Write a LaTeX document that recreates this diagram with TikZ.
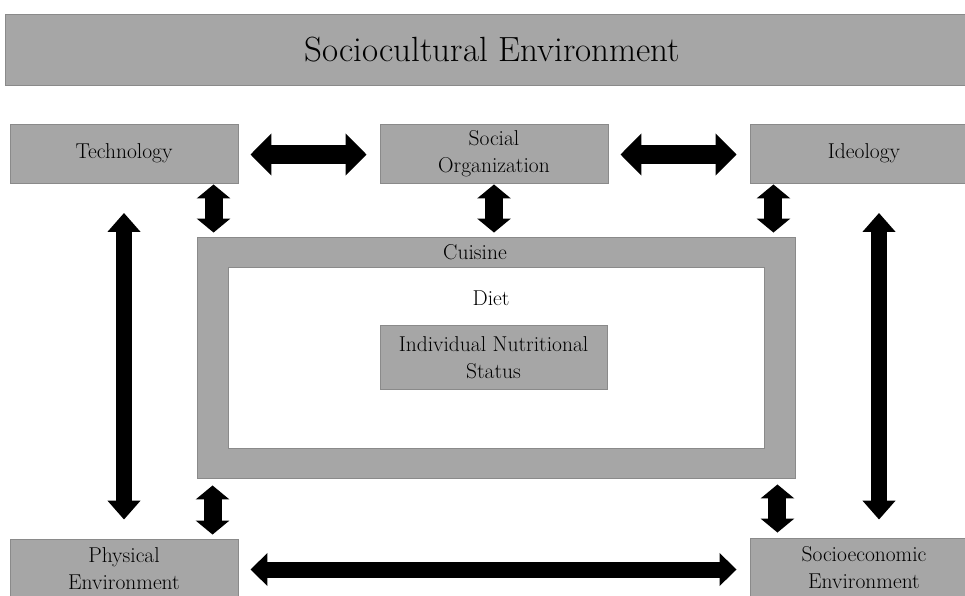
\documentclass[tikz,border=0pt]{standalone}
\usetikzlibrary{arrows.meta,calc}
\definecolor{boxgray}{HTML}{A6A6A6}
\definecolor{boxline}{HTML}{8A8A8A}
\begin{document}
\begin{tikzpicture}[x=1pt,y=-1pt,
  box/.style={draw=boxline, fill=boxgray, line width=0.9pt, inner sep=0pt, align=center, font=\fontsize{21.5}{27}\selectfont},
  lbl/.style={inner sep=0pt, font=\fontsize{21.5}{27}\selectfont},
  hbig/.style={line width=19pt, {Triangle[width=41pt,length=21pt]}-{Triangle[width=41pt,length=21pt]}},
  vsmall/.style={line width=18pt, {Triangle[width=33pt,length=14pt]}-{Triangle[width=33pt,length=14pt]}},
  vlong/.style={line width=16pt, {Triangle[width=32pt,length=19pt]}-{Triangle[width=32pt,length=19pt]}},
  hlong/.style={line width=16pt, {Triangle[width=32pt,length=17pt]}-{Triangle[width=32pt,length=17pt]}},
]
\useasboundingbox (0,0) rectangle (965,595);
\clip (0,0) rectangle (965,595);

\node[box, minimum width=975pt, minimum height=71pt, font=\fontsize{35}{40}\selectfont] (title) at (492.5,49.5) {Sociocultural Environment};

\node[box, minimum width=228pt, minimum height=59pt] (tech) at (124,153.5) {Technology};
\node[box, minimum width=228pt, minimum height=59pt] (soc) at (494,153.5) {Social\\Organization};
\node[box, minimum width=228pt, minimum height=59pt] (ideo) at (864,153.5) {Ideology};
\node[box, minimum width=228pt, minimum height=59pt] (phys) at (124,568.5) {Physical\\Environment};
\node[box, minimum width=228pt, minimum height=59pt] (socio) at (864,567.5) {Socioeconomic\\Environment};

\node[box, minimum width=598pt, minimum height=241pt] (cuisine) at (496,357.5) {};
\node[draw=boxline, fill=white, line width=0.9pt, inner sep=0pt, minimum width=536pt, minimum height=181pt] (diet) at (496,357.5) {};
\node[lbl] (cuisinelbl) at (475,252) {Cuisine};
\node[lbl] (dietlbl) at (491,298) {Diet};
\node[box, minimum width=227pt, minimum height=64pt] (ins) at (493.5,357.5) {Individual Nutritional\\Status};

\draw[hbig] ($(tech.east)+(12,1)$) -- ($(soc.west)+(-13,1)$);
\draw[hbig] ($(soc.east)+(12,1)$) -- ($(ideo.west)+(-13,1)$);

\draw[vsmall] ($(tech.south -| cuisine.west)+(17,1)$) -- ($(cuisine.north west)+(17,-4)$);
\draw[vsmall] ($(soc.south)+(0,1)$) -- ($(cuisine.north -| soc.south)+(0,-4)$);
\draw[vsmall] ($(ideo.south -| cuisine.east)+(-22,1)$) -- ($(cuisine.north east)+(-22,-4)$);
\draw[vsmall] ($(cuisine.south west)+(16,7)$) -- ($(phys.north -| cuisine.west)+(16,-4)$);
\draw[vsmall] ($(cuisine.south east)+(-18,6)$) -- ($(socio.north -| cuisine.east)+(-18,-5)$);

\draw[vlong] ($(tech.south)+(0,29.5)$) -- ($(phys.north)+(0,-19)$);
\draw[vlong] ($(ideo.south)+(15,29.5)$) -- ($(socio.north)+(15,-18)$);

\draw[hlong] ($(phys.east)+(12,1)$) -- ($(socio.west |- phys.east)+(-13,1)$);
\end{tikzpicture}
\end{document}
